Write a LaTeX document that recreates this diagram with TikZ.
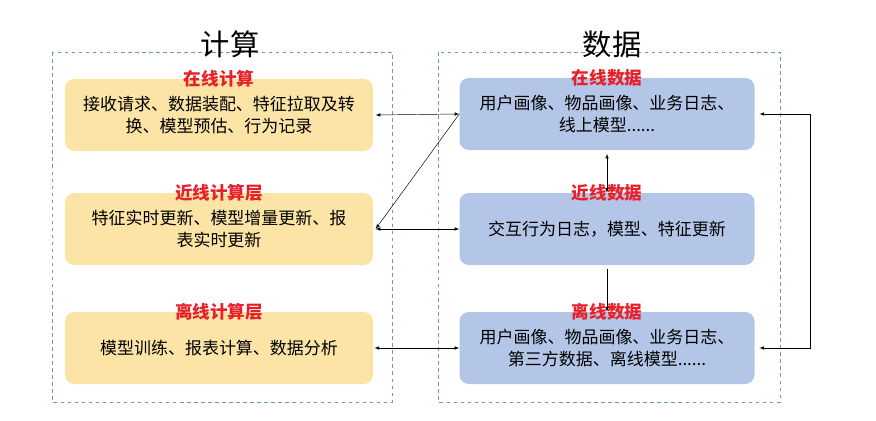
\documentclass[tikz,border=0pt]{standalone}
\usepackage{fontspec}
\newfontfamily\cjk{Noto Sans CJK SC}
\usetikzlibrary{positioning}
\definecolor{calcfill}{HTML}{FCE4A6}
\definecolor{datafill}{HTML}{B4C6E7}
\definecolor{labred}{HTML}{E8202A}
\definecolor{frameblue}{HTML}{6E9BB0}
\begin{document}
\begin{tikzpicture}[x=0.03cm,y=-0.03cm,font=\cjk\fontsize{14.5}{18}\selectfont]

\tikzset{calcbox/.style = {fill=calcfill, rounded corners=8pt, minimum width=9.24cm, minimum height=2.16cm, align=center}}
\tikzset{databox/.style = {fill=datafill, rounded corners=8pt, minimum width=8.85cm, minimum height=2.16cm, align=center}}
\tikzset{boxlabel/.style = {text=labred, font=\cjk\bfseries\fontsize{15}{17}\selectfont}}
\tikzset{frame/.style = {draw=frameblue, dashed, thin}}
\tikzset{link/.style = {<->, >=latex, thin}}

\useasboundingbox (0,0) rectangle (876,420);

% frames
\draw [frame] (52,52) rectangle (392,402);
\draw [frame] (438,52) rectangle (780,402);
\node (titlecalc) at (230,44) {\cjk\fontsize{25}{28}\selectfont 计算};
\node (titledata) at (612,44) {\cjk\fontsize{25}{28}\selectfont 数据};

% compute
\node [calcbox] (oncalc) at (219,115) {接收请求、数据装配、特征拉取及转\\换、模型预估、行为记录\hspace{2.4em}};
\node [calcbox] (nearcalc) at (219,229) {特征实时更新、模型增量更新、报\\表实时更新\hspace{8.2em}};
\node [calcbox] (offcalc) at (219,348) {模型训练、报表计算、数据分析};
\node [boxlabel] at (oncalc.north) {在线计算};
\node [boxlabel] at (nearcalc.north) {近线计算层};
\node [boxlabel] at (offcalc.north) {离线计算层};

% data
\node [databox] (ondata) at (607,114) {用户画像、物品画像、业务日志、\\线上模型......};
\node [databox] (neardata) at (607,229) {交互行为日志，模型、特征更新};
\node [databox] (offdata) at (607,348) {用户画像、物品画像、业务日志、\\第三方数据、离线模型......};
\node [boxlabel] at (ondata.north) {在线数据};
\node [boxlabel] at (neardata.north) {近线数据};
\node [boxlabel] at (offdata.north) {离线数据};

% links
\draw [link] ([xshift=2pt]oncalc.east) -- (ondata.west);
\draw [link] ([xshift=2pt]nearcalc.east) -- (neardata.west);
\draw [->, >=latex, thin] (ondata.west) -- ([xshift=2pt]nearcalc.east);
\draw [link] ([xshift=1pt]offcalc.east) -- (offdata.west);
\draw [link] ([yshift=-3pt]ondata.south) -- (neardata.north);
\draw [->, >=latex, thin] ([yshift=-3pt]neardata.south) -- (offdata.north);
\coordinate (loop) at (810,114);
\draw [<->, >=latex, thin] ([xshift=4pt]ondata.east) -- (loop) |- ([xshift=4pt]offdata.east);

\end{tikzpicture}
\end{document}
